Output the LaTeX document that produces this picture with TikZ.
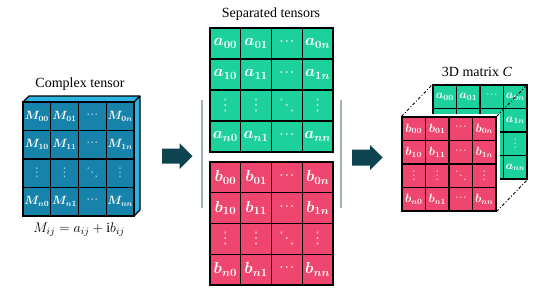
\RequirePackage{fix-cm}
\documentclass[tikz,border=0pt]{standalone}
\usepackage{fontspec}
\setmainfont{Liberation Serif}
\newfontfamily\dotsfont{DejaVu Sans}
\definecolor{blueC}{HTML}{1883AA}
\definecolor{blueT}{HTML}{2DB3E0}
\definecolor{greenC}{HTML}{1DD19C}
\definecolor{pinkC}{HTML}{EE466E}
\definecolor{arrowC}{HTML}{0E4350}
\definecolor{grayL}{HTML}{9FB3BB}
\tikzset{
  cellbox/.style={draw=black, line width=1.1pt, inner sep=0pt},
  celltext/.style={text=white},
  titletext/.style={font=\fontsize{14}{16}\selectfont, anchor=base, inner sep=0pt},
  linkline/.style={black, line width=0.9pt, dash pattern=on 3pt off 2pt on 1pt off 2pt},
  blockarrow/.style={fill=arrowC},
  sepline/.style={grayL, line width=1.3pt}
}
% #1 name, #2 x0, #3 y0, #4 cell w, #5 cell h, #6 colour, #7 letter, #8 font size
\newcommand{\cellgrid}[8]{%
  \foreach \r/\rl in {1/0,2/1,4/n}{\foreach \c/\cl in {1/0,2/1,4/n}{
    \node[cellbox, celltext, fill=#6, minimum width=#4pt, minimum height=#5pt,
      font=\fontsize{#8}{#8}\selectfont\boldmath] (#1-\r-\c)
      at ({#2+(\c-0.5)*#4},{#3+(\r-0.5)*#5}) {$#7_{\rl\cl}$};
  }}
  \foreach \r in {1,2,4}{
    \node[cellbox, text=white!60!#6, fill=#6, minimum width=#4pt, minimum height=#5pt,
      font=\dotsfont\fontsize{#8}{#8}\selectfont] (#1-\r-3)
      at ({#2+2.5*#4},{#3+(\r-0.5)*#5}) {⋯};
  }
  \foreach \c in {1,2,4}{
    \node[cellbox, text=white!60!#6, fill=#6, minimum width=#4pt, minimum height=#5pt,
      font=\dotsfont\fontsize{#8}{#8}\selectfont] (#1-3-\c)
      at ({#2+(\c-0.5)*#4},{#3+2.5*#5}) {⋮};
  }
  \node[cellbox, text=white!60!#6, fill=#6, minimum width=#4pt, minimum height=#5pt,
    font=\dotsfont\fontsize{#8}{#8}\selectfont] (#1-3-3)
    at ({#2+2.5*#4},{#3+2.5*#5}) {⋱};
}
\begin{document}
\begin{tikzpicture}[x=1pt,y=-1pt]
\path[use as bounding box, fill=white] (0,0) rectangle (538,295);

% ---------- Complex tensor ----------
\node[titletext] (t1) at (80,87.5) {Complex tensor};
\filldraw[fill=blueT, draw=black, line width=1.1pt, line join=round]
  (23,102) -- (29,96) -- (140,96) -- (140,210) -- (134,216) -- (134,102) -- cycle;
\draw[black, line width=1.1pt] (134,102) -- (140,96);
\cellgrid{M}{23}{102}{27.75}{28.5}{blueC}{M}{12}
\node[font=\fontsize{14}{16}\selectfont, anchor=base, inner sep=0pt] (f1) at (79,232)
  {$M_{ij}=a_{ij}+\mathrm{i}b_{ij}$};

% ---------- arrow 1 ----------
\fill[blockarrow] (162,148.5) -- (179.5,148.5) -- (179.5,143) -- (192.5,156)
  -- (179.5,169) -- (179.5,163.5) -- (162,163.5) -- cycle;

% ---------- Separated tensors ----------
\node[titletext] (t2) at (271,17.5) {Separated tensors};
\draw[sepline] (202,100) -- (202,208);
\draw[sepline] (341,100) -- (341,208);
\cellgrid{A}{210}{28}{30.75}{31}{greenC}{a}{16}
\cellgrid{B}{210}{162}{30.75}{30.75}{pinkC}{b}{16}

% ---------- arrow 2 ----------
\fill[blockarrow] (352,149.5) -- (370,149.5) -- (370,145) -- (382.5,157.5)
  -- (370,170) -- (370,165.5) -- (352,165.5) -- cycle;

% ---------- 3D matrix ----------
\node[titletext] (t3) at (477,76.5) {3D matrix \textit{C}};
% back (green) layer: only the cells that stay visible carry text
\foreach \r/\c/\t in {1/1/{$a_{00}$}, 1/2/{$a_{01}$}, 1/3/{\dotsfont\color{white!60!greenC}⋯}, 1/4/{$a_{0n}$},
                      2/1/{}, 2/2/{}, 2/3/{}, 2/4/{$a_{1n}$},
                      3/1/{}, 3/2/{}, 3/3/{}, 3/4/{\dotsfont\color{white!60!greenC}⋮},
                      4/1/{}, 4/2/{}, 4/3/{}, 4/4/{$a_{nn}$}}{
  \node[cellbox, celltext, fill=greenC, minimum width=23.5pt, minimum height=23.5pt,
    font=\fontsize{12}{12}\selectfont\boldmath] (G-\r-\c)
    at ({433+(\c-0.5)*23.5},{85+(\r-0.5)*23.5}) {\t};
}
\fill[white] (398.5,113.5) rectangle (499.5,214.5);
\cellgrid{P}{402}{117}{23.5}{23.5}{pinkC}{b}{12}
\draw[linkline] (P-1-1.north west) -- (G-1-1.north west);
\draw[linkline] (P-1-4.north east) -- (G-1-4.north east);
\draw[linkline] (P-4-4.south east) -- (G-4-4.south east);
\end{tikzpicture}
\end{document}
